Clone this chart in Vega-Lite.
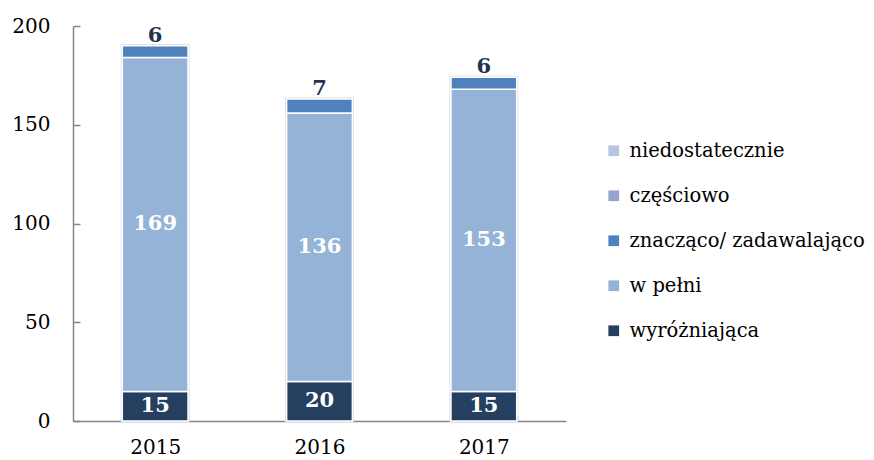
{
  "$schema": "https://vega.github.io/schema/vega-lite/v6.json",
  "autosize": "none",
  "width": 493,
  "height": 395,
  "padding": {"left": 73, "top": 26, "right": 308, "bottom": 39},
  "background": "white",
  "config": {
    "view": {"stroke": null},
    "font": "DejaVu Serif",
    "axis": {"domainColor": "#868686", "tickColor": "#868686", "domainWidth": 1.5, "tickWidth": 1.5, "labelColor": "#000000", "labelFont": "DejaVu Serif", "labelFontSize": 20, "grid": false, "title": null}
  },
  "data": {
    "values": [
      {"rok": "2015", "kat": "wyróżniająca", "poz": 1, "wartosc": 15},
      {"rok": "2015", "kat": "w pełni", "poz": 2, "wartosc": 169},
      {"rok": "2015", "kat": "znacząco/ zadawalająco", "poz": 3, "wartosc": 6},
      {"rok": "2016", "kat": "wyróżniająca", "poz": 1, "wartosc": 20},
      {"rok": "2016", "kat": "w pełni", "poz": 2, "wartosc": 136},
      {"rok": "2016", "kat": "znacząco/ zadawalająco", "poz": 3, "wartosc": 7},
      {"rok": "2017", "kat": "wyróżniająca", "poz": 1, "wartosc": 15},
      {"rok": "2017", "kat": "w pełni", "poz": 2, "wartosc": 153},
      {"rok": "2017", "kat": "znacząco/ zadawalająco", "poz": 3, "wartosc": 6}
    ]
  },
  "transform": [
    {"stack": "wartosc", "groupby": ["rok"], "sort": [{"field": "poz", "order": "ascending"}], "as": ["y0", "y1"]}
  ],
  "encoding": {
    "x": {
      "field": "rok", "type": "nominal",
      "scale": {"paddingInner": 0.6, "paddingOuter": 0.3},
      "axis": {"labelAngle": 0, "tickBand": "extent", "tickSize": -6, "labelPadding": 22}
    }
  },
  "layer": [
    {
      "transform": [{"filter": "datum.poz == 3"}],
      "mark": {"type": "bar", "fill": "#ffffff", "stroke": "#dcdcdc", "strokeWidth": 3},
      "encoding": {
        "y": {"field": "y1", "type": "quantitative", "scale": {"domain": [0, 200]},
              "axis": {"values": [0, 50, 100, 150, 200], "tickSize": -7, "labelPadding": 30}},
        "y2": {"datum": 0}
      }
    },
    {
      "mark": {"type": "bar", "stroke": "white", "strokeWidth": 1.5},
      "encoding": {
        "y": {"field": "y1", "type": "quantitative"},
        "y2": {"field": "y0"},
        "color": {
          "field": "kat", "type": "nominal",
          "scale": {
            "domain": ["niedostatecznie", "częściowo", "znacząco/ zadawalająco", "w pełni", "wyróżniająca"],
            "range": ["#B9C4E2", "#95A5CF", "#4F81BD", "#95B3D7", "#243F60"]
          },
          "legend": {
            "title": null, "orient": "none", "legendX": 531, "legendY": 115,
            "symbolType": "square", "symbolSize": 115, "symbolStrokeWidth": 0,
            "labelFont": "DejaVu Serif", "labelFontSize": 19.5, "labelColor": "#000000",
            "labelLimit": 320, "rowPadding": 24, "labelOffset": 6
          }
        }
      }
    },
    {
      "transform": [{"filter": "datum.poz < 3"}],
      "mark": {"type": "text", "color": "white", "fontWeight": "bold", "fontSize": 21, "font": "DejaVu Serif", "baseline": "middle"},
      "encoding": {
        "y": {"field": "wartosc", "type": "quantitative", "stack": "zero", "bandPosition": 0.5},
        "order": {"field": "poz"},
        "text": {"field": "wartosc"}
      }
    },
    {
      "transform": [{"filter": "datum.poz == 3"}],
      "mark": {"type": "text", "color": "#1F3350", "fontWeight": "bold", "fontSize": 21, "font": "DejaVu Serif", "baseline": "alphabetic", "dy": -4},
      "encoding": {
        "y": {"field": "y1", "type": "quantitative"},
        "text": {"field": "wartosc"}
      }
    }
  ]
}
